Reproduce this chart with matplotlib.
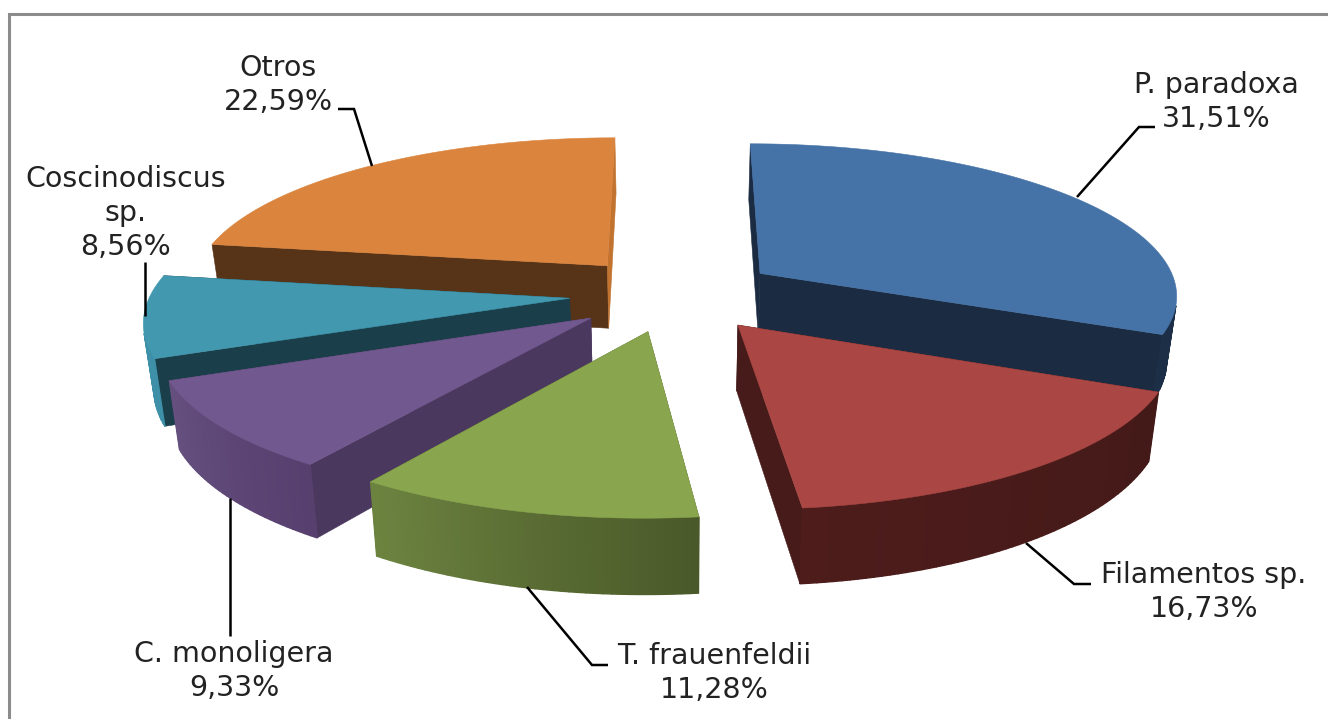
import numpy as np
import matplotlib
matplotlib.use('Agg')
import matplotlib.pyplot as plt
from matplotlib.patches import Polygon

species = ['P. paradoxa', 'Filamentos sp.', 'T. frauenfeldii', 'C. monoligera', 'Coscinodiscus\nsp.', 'Otros']
percent = [31.51, 16.73, 11.28, 9.33, 8.56, 22.59]

top_colors = ['#4572A7', '#AA4643', '#89A54E', '#71588F', '#4198AF', '#DB843D']
wall_start_colors = ['#1c2f47', '#431a18', '#4a5929', '#573f6e', '#3d90a7', '#c8752f']
wall_end_colors = ['#1c2f47', '#4d1c1b', '#6c8340', '#65507f', '#3d90a7', '#c8752f']
side_start_colors = ['#1b2c42', '#431a18', '#4a5929', '#4b385e', '#1b3f4a', '#573317']
side_end_colors = ['#1b2c42', '#461b19', '#4a5929', '#4b385e', '#1b3f4a', '#c1732f']
draw_order = [5, 0, 4, 3, 1, 2]

# camera and pie geometry, in pixels
cx, cy = 674.0, 293.8
rx, ry = 419.0, 151.4
persp = 0.13
explode = 0.25
depth = 64.0
bottom_shrink = 0.98

label_pos = [(1216, 102), (1204, 592), (714, 673), (234, 671), (126, 213), (278, 85)]
leaders = [
    [(1077, 197), (1139, 127), (1155, 127)],
    [(1026, 543), (1074, 584), (1091, 584)],
    [(527, 587), (592, 665), (608, 665)],
    [(230, 498), (230, 636)],
    [(145, 316), (145, 262)],
    [(372, 166), (354, 109), (338, 109)],
]


def project(x, y, bottom=False):
    s = 1.0 / (1.0 + persp * y)
    sx = rx * x * s
    sy = cy - ry * y * s
    if bottom:
        sx = sx * bottom_shrink
        sy = sy + depth * s
    return np.column_stack([cx + sx, sy])


def mix(c1, c2, t):
    a = np.array(matplotlib.colors.to_rgb(c1))
    b = np.array(matplotlib.colors.to_rgb(c2))
    return tuple(a + (b - a) * t)


def add_face(ax, pts, color, lw=0.4):
    ax.add_patch(Polygon(pts, closed=True, facecolor=color, edgecolor=color, linewidth=lw))


def faces_viewer(p0, p1, p2):
    # sign of the strip's screen area tells front wall from back wall
    return (p1[0] - p0[0]) * (p2[1] - p0[1]) - (p1[1] - p0[1]) * (p2[0] - p0[0]) < 0


def draw_slice(ax, idx, th0, th1):
    mid = 0.5 * (th0 + th1)
    ox = explode * np.sin(mid)
    oy = explode * np.cos(mid)
    th = np.linspace(th0, th1, max(int(np.degrees(th1 - th0)), 2) + 1)
    arc_x = ox + np.sin(th)
    arc_y = oy + np.cos(th)

    apex_top = project(np.array([ox]), np.array([oy]))
    apex_bot = project(np.array([ox]), np.array([oy]), bottom=True)
    arc_top = project(arc_x, arc_y)
    arc_bot = project(arc_x, arc_y, bottom=True)

    # the two flat cut faces
    add_face(ax, [apex_top[0], arc_top[0], arc_bot[0], apex_bot[0]], side_start_colors[idx])
    add_face(ax, [apex_top[0], arc_top[-1], arc_bot[-1], apex_bot[0]], side_end_colors[idx])

    # outer wall, built from thin strips so the shading can change along the arc
    n = len(th) - 1
    for j in range(n):
        if not faces_viewer(arc_top[j], arc_top[j + 1], arc_bot[j]):
            continue
        col = mix(wall_start_colors[idx], wall_end_colors[idx], j / max(n - 1, 1))
        add_face(ax, [arc_top[j], arc_top[j + 1], arc_bot[j + 1], arc_bot[j]], col, lw=1.0)

    add_face(ax, np.vstack([apex_top, arc_top]), top_colors[idx])


fig = plt.figure(figsize=(13.28, 7.19), dpi=100)
ax = fig.add_axes([0, 0, 1, 1])
ax.set_xlim(0, 1328)
ax.set_ylim(719, 0)
ax.axis('off')

# chart frame, open to the right and bottom of the image
ax.plot([8.5, 8.5, 1330], [725, 14, 14], color='#8c8c8c', linewidth=2.2, solid_joinstyle='miter')

edges = np.cumsum([0] + percent) / np.sum(percent) * 2 * np.pi
for i in draw_order:
    draw_slice(ax, i, edges[i], edges[i + 1])

for pts in leaders:
    ax.plot([p[0] for p in pts], [p[1] for p in pts], color='black', linewidth=1.8,
            solid_joinstyle='miter', solid_capstyle='butt')

for i in range(len(species)):
    value = ('%.2f' % percent[i]).replace('.', ',') + '%'
    ax.text(label_pos[i][0], label_pos[i][1], species[i] + '\n' + value, ha='center', va='center',
            multialignment='center', fontsize=20.5, color='#222222', linespacing=1.27,
            family='DejaVu Sans')

fig.savefig('out.png', dpi=100, facecolor='white')
